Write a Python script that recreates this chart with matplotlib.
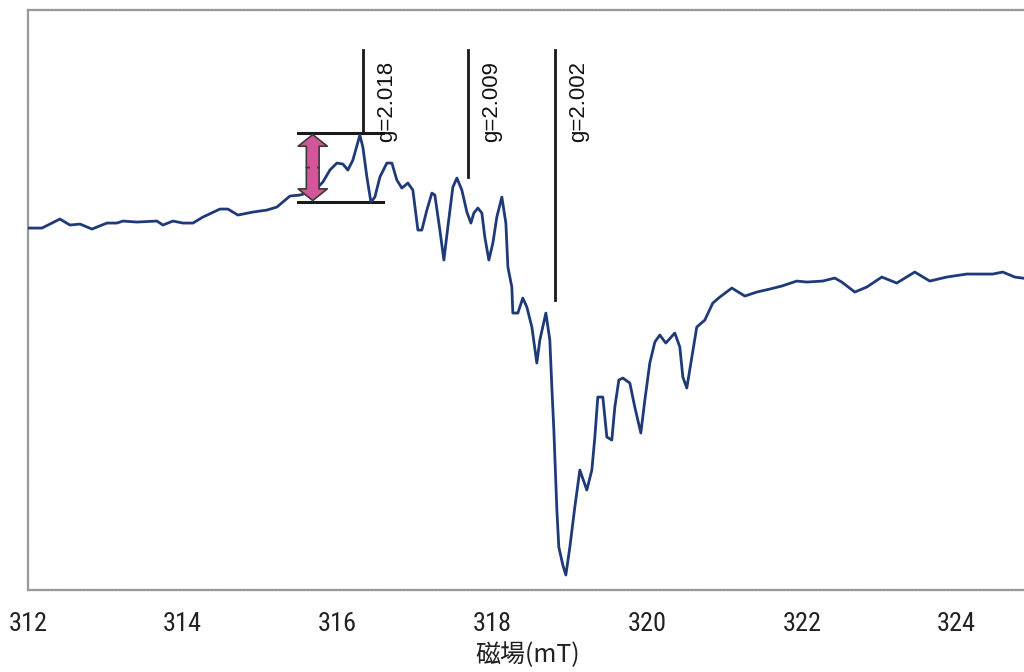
import matplotlib
matplotlib.use("Agg")
import matplotlib.pyplot as plt
from matplotlib import font_manager

# ESR spectrum (arbitrary intensity units)
field = [312.000, 312.181, 312.310, 312.413, 312.543, 312.672, 312.827, 313.021, 313.150, 313.227,
         313.408, 313.667, 313.744, 313.873, 314.003, 314.132, 314.261, 314.481, 314.584, 314.713,
         314.907, 315.088, 315.217, 315.385, 315.514, 315.605, 315.708, 315.811, 315.902, 315.992,
         316.070, 316.134, 316.199, 316.289, 316.328, 316.380, 316.432, 316.483, 316.548, 316.638,
         316.703, 316.767, 316.832, 316.910, 316.974, 317.039, 317.090, 317.155, 317.220, 317.258,
         317.323, 317.375, 317.426, 317.491, 317.543, 317.607, 317.672, 317.724, 317.762, 317.814,
         317.866, 317.904, 317.956, 318.008, 318.059, 318.124, 318.176, 318.202, 318.253, 318.266,
         318.331, 318.395, 318.447, 318.512, 318.576, 318.615, 318.693, 318.744, 318.770, 318.796,
         318.835, 318.860, 318.912, 318.951, 319.003, 319.067, 319.132, 319.222, 319.287, 319.326,
         319.364, 319.429, 319.481, 319.545, 319.584, 319.636, 319.687, 319.778, 319.842, 319.920,
         319.972, 320.036, 320.101, 320.165, 320.243, 320.359, 320.424, 320.463, 320.514, 320.579,
         320.643, 320.747, 320.850, 320.941, 321.096, 321.264, 321.419, 321.587, 321.742, 321.935,
         322.065, 322.271, 322.426, 322.517, 322.685, 322.840, 323.034, 323.227, 323.460, 323.654,
         323.873, 324.132, 324.468, 324.597, 324.752, 324.946]
intensity = [0, 0, 5, 9, 3, 4, -1, 5, 5, 7,
             6, 7, 3, 7, 5, 5, 11, 19, 19, 13,
             16, 18, 21, 32, 33, 35, 38, 46, 58, 65,
             64, 58, 68, 93, 81, 51, 26, 31, 51, 65,
             65, 48, 40, 45, 38, -2, -2, 18, 35, 33,
             -2, -32, 1, 41, 50, 38, 16, 5, 15, 20,
             15, -9, -32, -15, 11, 31, 5, -39, -59, -85,
             -85, -70, -79, -99, -135, -112, -85, -112, -159, -202,
             -282, -319, -337, -347, -319, -279, -242, -262, -242, -209,
             -169, -169, -209, -212, -179, -152, -150, -155, -179, -205,
             -172, -135, -114, -107, -115, -105, -119, -149, -160, -129,
             -99, -92, -75, -69, -60, -68, -64, -61, -58, -53,
             -54, -53, -50, -54, -64, -59, -49, -55, -44, -53,
             -49, -46, -46, -44, -49, -51]

g_labels = ["g=2.018", "g=2.009", "g=2.002"]
g_field = [316.33, 317.69, 318.81]
g_line_bottom = [95, 51, -72]
g_line_top = 178

peak_levels = [95, 26]          # peak-to-peak bracket
bracket_field = [315.49, 316.59]
arrow_field = 315.68

xticks = [312, 314, 316, 318, 320, 322, 324]

PINK = "#d2569a"
EDGE = "#3a3a3a"

fig = plt.figure(figsize=(10.24, 6.72), dpi=100)
ax = fig.add_axes([0.0273, 0.122, 0.9824, 0.863])

ax.plot(field, intensity, color="#1f3a78", lw=2.0, zorder=3)

# g-value markers
for lab, gx, gb in zip(g_labels, g_field, g_line_bottom):
    ax.plot([gx, gx], [gb, g_line_top], color="#1a1a1a", lw=2.0, zorder=2)
    ax.text(gx + 0.30, 86, lab, rotation=90, ha="center", va="bottom",
            fontsize=16, family="Liberation Sans", color="#111111")

# peak-to-peak bracket
for lv in peak_levels:
    ax.plot(bracket_field, [lv, lv], color="#1a1a1a", lw=2.2, zorder=2)

# double arrow, built from two single arrows meeting in the middle
mid = (peak_levels[0] + peak_levels[1]) / 2
style = "simple,head_length=0.42,head_width=1.05,tail_width=0.46"
for tip in peak_levels:
    ax.annotate("", xy=(arrow_field, tip + (1.5 if tip < mid else -1.5)),
                xytext=(arrow_field, mid),
                arrowprops=dict(arrowstyle=style, fc=PINK, ec=EDGE, lw=1.2,
                                mutation_scale=20, shrinkA=0, shrinkB=0),
                zorder=4)
ax.plot([arrow_field, arrow_field], [mid - 6, mid + 6], color=PINK, lw=5.2,
        solid_capstyle="butt", zorder=5)

ax.set_xlim(312, 325)
ax.set_ylim(-362, 218)
ax.set_yticks([])
ax.set_xticks(xticks)
ax.set_xticklabels([str(t) for t in xticks])

# condensed face for the tick numbers if one is installed
tick_prop = None
wanted = ["Liberation Sans Narrow", "Roboto Condensed", "Open Sans Condensed",
          "DejaVu Sans Condensed", "Noto Sans Condensed", "Arial Narrow"]
names = {f.name: f for f in font_manager.fontManager.ttflist}
for w in wanted:
    if w in names:
        tick_prop = font_manager.FontProperties(family=w, size=19)
        break
if tick_prop is None:
    for f in font_manager.fontManager.ttflist:
        if str(f.stretch) in ("condensed", "semi-condensed") and f.style == "normal" \
                and f.weight in (400, "normal", "regular"):
            tick_prop = font_manager.FontProperties(fname=f.fname, size=19)
            break
if tick_prop is None:
    tick_prop = font_manager.FontProperties(family="Liberation Sans", size=17)

ax.tick_params(axis="x", length=0, pad=16)
for lbl in ax.get_xticklabels():
    lbl.set_fontproperties(tick_prop)
    lbl.set_color("#222222")

ax.set_xlabel("磁場(mT)", fontsize=18, family=["Noto Sans CJK JP", "DejaVu Sans"], color="#222222")
ax.xaxis.set_label_coords(0.497, -0.090)

for sp in ax.spines.values():
    sp.set_color("#9a9a9a")
    sp.set_linewidth(1.6)
    sp.set_linestyle((0, (1, 0.6)))

fig.savefig("out.png", dpi=100)
